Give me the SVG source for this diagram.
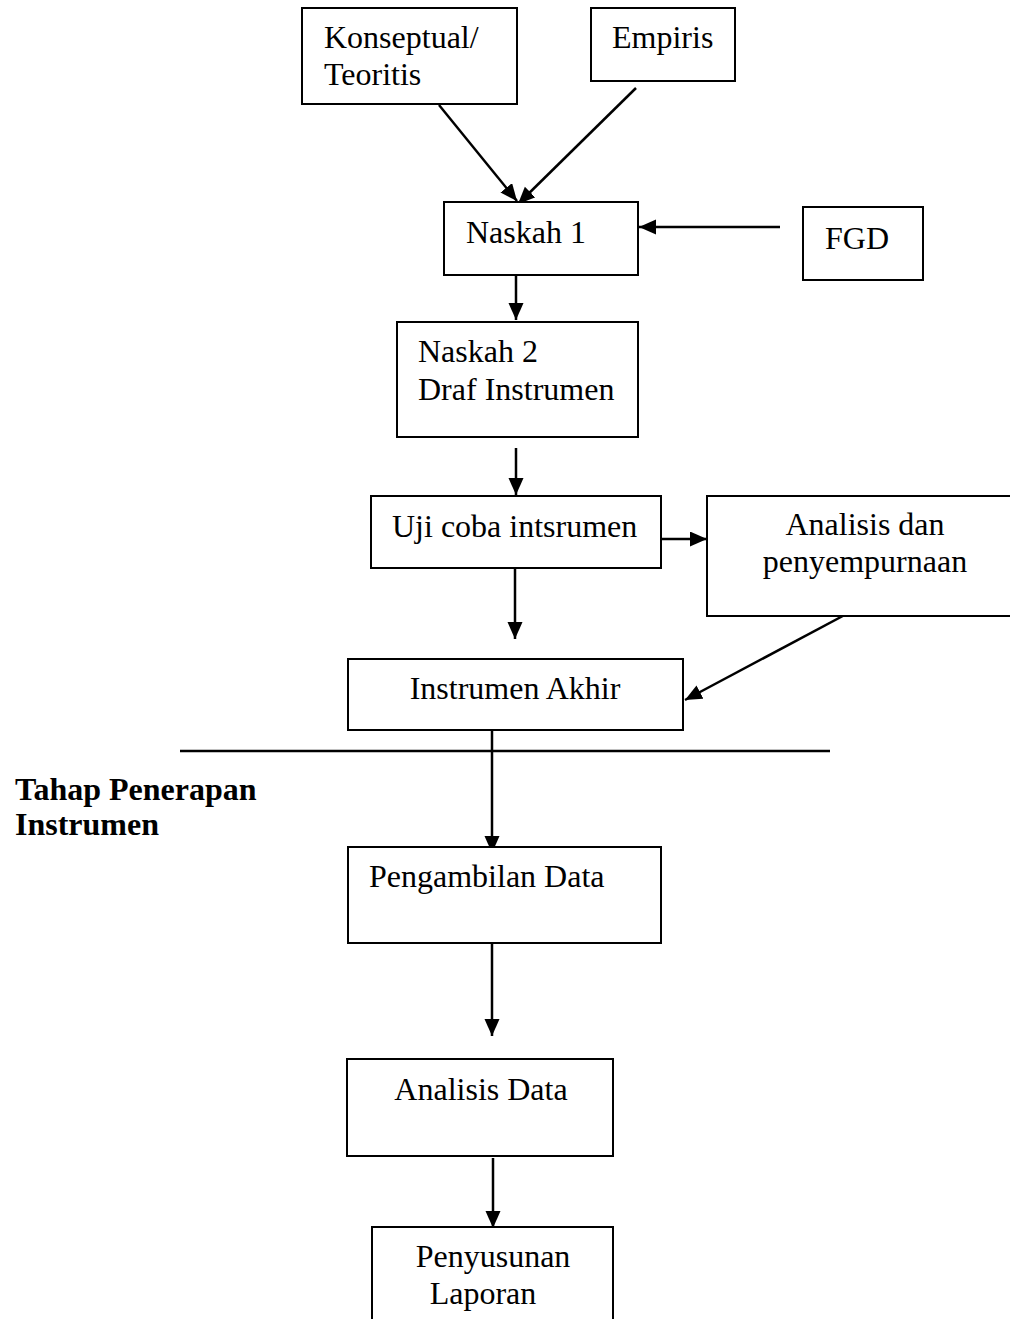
<svg xmlns="http://www.w3.org/2000/svg" width="1010" height="1319" viewBox="0 0 1010 1319">
<defs>
<marker id="ah" markerUnits="userSpaceOnUse" markerWidth="18" markerHeight="16" refX="17" refY="7.5" orient="auto">
<path d="M0,0 L17,7.5 L0,15 z" fill="#000"/>
</marker>
<style>
.box{fill:#fff;stroke:#000;stroke-width:2}
.t{font-family:"Liberation Serif","Times New Roman",serif;font-size:32px;fill:#000}
.b{font-weight:bold;font-size:32px}
.c{text-anchor:middle}
.ln{stroke:#000;stroke-width:2.5;fill:none}
.ar{stroke:#000;stroke-width:2.5;fill:none;marker-end:url(#ah)}
</style>
</defs>
<rect width="1010" height="1319" fill="#fff"/>
<g id="connectors">
<line class="ar" x1="439" y1="105" x2="517" y2="201"/>
<line class="ar" x1="636" y1="88" x2="518" y2="204"/>
<line class="ar" x1="780" y1="227" x2="639" y2="227"/>
<line class="ar" x1="516" y1="276" x2="516" y2="320"/>
<line class="ar" x1="516" y1="448" x2="516" y2="495"/>
<line class="ar" x1="661" y1="539" x2="707" y2="539"/>
<line class="ar" x1="515" y1="569" x2="515" y2="639"/>
<line class="ar" x1="854" y1="610" x2="685" y2="700"/>
<line class="ln" x1="180" y1="751" x2="830" y2="751"/>
<line class="ar" x1="492" y1="731" x2="492" y2="853"/>
<line class="ar" x1="492" y1="944" x2="492" y2="1036"/>
<line class="ar" x1="493" y1="1158" x2="493" y2="1228"/>
</g>
<g id="konseptual"><rect class="box" x="302" y="8" width="215" height="96"/><text class="t" x="324" y="48">Konseptual/</text><text class="t" x="324" y="85">Teoritis</text></g>
<g id="empiris"><rect class="box" x="591" y="8" width="144" height="73"/><text class="t" x="612" y="48">Empiris</text></g>
<g id="naskah1"><rect class="box" x="444" y="202" width="194" height="73"/><text class="t" x="466" y="243">Naskah 1</text></g>
<g id="fgd"><rect class="box" x="803" y="207" width="120" height="73"/><text class="t" x="825" y="249">FGD</text></g>
<g id="naskah2"><rect class="box" x="397" y="322" width="241" height="115"/><text class="t" x="418" y="362">Naskah 2</text><text class="t" x="418" y="400">Draf Instrumen</text></g>
<g id="ujicoba"><rect class="box" x="371" y="496" width="290" height="72"/><text class="t" x="392" y="537">Uji coba intsrumen</text></g>
<g id="analisis"><rect class="box" x="707" y="496" width="310" height="120"/><text class="t c" x="865" y="535">Analisis dan</text><text class="t c" x="865" y="572">penyempurnaan</text></g>
<g id="instrumenakhir"><rect class="box" x="348" y="659" width="335" height="71"/><text class="t c" x="515" y="699">Instrumen Akhir</text></g>
<g id="tahap"><text class="t b" x="15" y="800">Tahap Penerapan</text><text class="t b" x="15" y="835">Instrumen</text></g>
<g id="pengambilan"><rect class="box" x="348" y="847" width="313" height="96"/><text class="t" x="369" y="887">Pengambilan Data</text></g>
<g id="analisisdata"><rect class="box" x="347" y="1059" width="266" height="97"/><text class="t c" x="481" y="1100">Analisis Data</text></g>
<g id="penyusunan"><rect class="box" x="372" y="1227" width="241" height="110"/><text class="t c" x="493" y="1267">Penyusunan</text><text class="t c" x="483" y="1304">Laporan</text></g>
</svg>
